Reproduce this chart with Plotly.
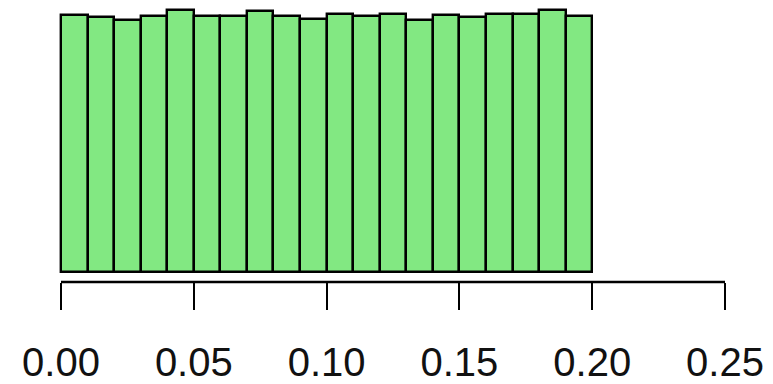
import plotly.graph_objects as go

bin_starts = [i * 0.01 for i in range(20)]
counts = [502, 497, 492, 500, 510, 500, 500, 508, 500, 494,
          503, 499, 503, 492, 501, 497, 503, 503, 510, 499]
tick_vals = [0.00, 0.05, 0.10, 0.15, 0.20, 0.25]
tick_text = ["0.00", "0.05", "0.10", "0.15", "0.20", "0.25"]

bin_width = 0.01
centers = [s + bin_width / 2 for s in bin_starts]
ymax = max(counts)

W, H = 773, 384
px_per_unit = 664 / 0.25
x0 = -61 / px_per_unit
x1 = 0.25 + 48 / px_per_unit

fig = go.Figure()
fig.add_trace(go.Bar(
    x=centers, y=counts, width=bin_width,
    marker=dict(color="#82E882", line=dict(color="black", width=2.4)),
))

fig.add_shape(type="line", xref="x", yref="paper",
              x0=tick_vals[0], x1=tick_vals[-1], y0=0, y1=0,
              line=dict(color="black", width=2.4))

fig.update_layout(
    width=W, height=H,
    margin=dict(l=0, r=0, t=0, b=102),
    paper_bgcolor="white", plot_bgcolor="white",
    showlegend=False, bargap=0,
    xaxis=dict(range=[x0, x1], tickvals=tick_vals, ticktext=tick_text,
               ticks="outside", ticklen=27, tickwidth=2.4, tickcolor="black",
               showline=False, showgrid=False, zeroline=False,
               tickfont=dict(family="Liberation Sans, Arial", size=40, color="#111111"),
               ticklabelstandoff=18),
    yaxis=dict(range=[-0.04 * ymax, 1.04 * ymax], visible=False,
               showgrid=False, zeroline=False),
)

fig.write_html("out.html")
